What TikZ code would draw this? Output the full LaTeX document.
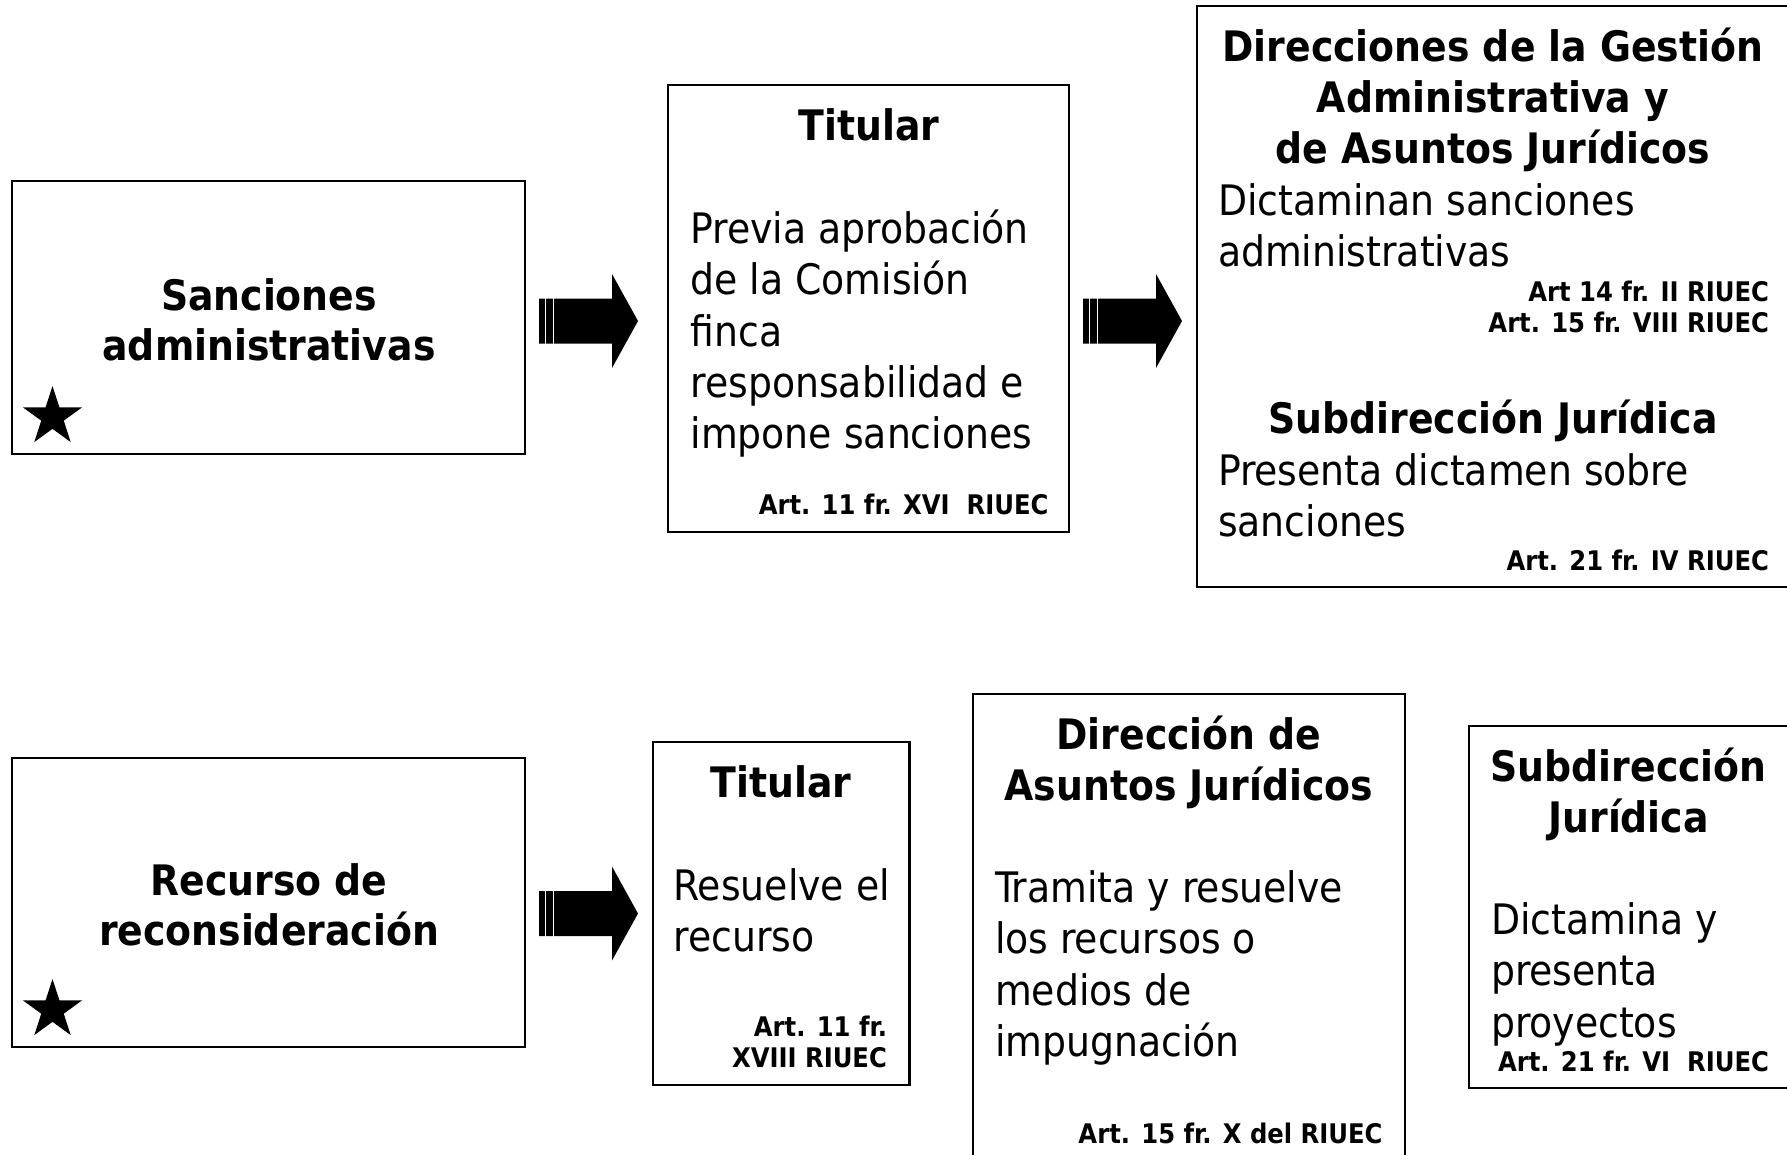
\documentclass[tikz,border=0pt]{standalone}
\usepackage{fontspec}
\setmainfont{DejaVu Sans Condensed}
\usetikzlibrary{shapes.geometric}
\newcommand\fsBody{\fontsize{42}{51.3}\selectfont}
\newcommand\fsHead{\bfseries\fontsize{42}{49.5}\selectfont}
\newcommand\fsHeadB{\bfseries\fontsize{42}{51}\selectfont}
\newcommand\fsTit{\bfseries\fontsize{42}{51}\selectfont}
\newcommand\fsArt{\bfseries\fontsize{27}{31}\selectfont}
\begin{document}
\begin{tikzpicture}[x=1pt,y=-1pt,
  box/.style={draw=black, line width=2.2pt, inner sep=0pt, outer sep=0pt, anchor=north west},
  txt/.style={inner sep=0pt, outer sep=0pt},
  stripedarrow/.pic={
    \fill[black] (0,-22.5) -- (73,-22.5) -- (73,-47) -- (99,0) -- (73,47) -- (73,22.5) -- (0,22.5) -- cycle;
    \draw[white, line width=1.2pt] (6.5,-23) -- (6.5,23) (14.5,-23) -- (14.5,23);
  },
  starmark/.style={star, star points=5, star point ratio=2.618, fill=black, draw=none, minimum size=62pt, inner sep=0pt}]
\useasboundingbox (0,0) rectangle (1787,1154);
\clip (0,0) rectangle (1787,1154);
\fill[white] (0,0) rectangle (1787,1154);

% boxes
\node[box, minimum width=513pt, minimum height=273pt] (b1) at (12,181) {};
\node[box, minimum width=401pt, minimum height=447pt] (b2) at (668,85) {};
\node[box, minimum width=593pt, minimum height=581pt] (b3) at (1197,6) {};
\node[box, minimum width=513pt, minimum height=289pt] (b4) at (12,758) {};
\node[box, minimum width=256.5pt, minimum height=343pt] (b5) at (653,742) {};
\node[box, minimum width=432pt, minimum height=470pt] (b6) at (973,694) {};
\node[box, minimum width=321pt, minimum height=362pt] (b7) at (1469,726) {};

% stars
\node[starmark] (s1) at (52.5,417) {};
\node[starmark] (s2) at (52.5,1010) {};

% arrows
\pic at (539,321) {stripedarrow};
\pic at (1083,321) {stripedarrow};
\pic at (539,913.5) {stripedarrow};

% box 1
\node[txt, anchor=base] (t1) at (269,310.5) {\fsHead\begin{tabular}[t]{@{}c@{}}Sanciones\\administrativas\end{tabular}};

% box 2
\node[txt, anchor=base] (t2h) at (869,140) {\fsTit Titular};
\node[txt, anchor=base west] (t2b) at (690.6,243.5) {\fsBody\begin{tabular}[t]{@{}l@{}}Previa aprobación\\de la Comisión\\finca\\responsabilidad e\\impone sanciones\end{tabular}};
\node[txt, anchor=base east] (t2a) at (1048.5,514) {\fsArt Art. 11 fr. XVI~~RIUEC};

% box 3
\node[txt, anchor=base] (t3h) at (1493,61) {\fsHeadB\begin{tabular}[t]{@{}c@{}}Direcciones de la Gestión\\Administrativa y\\de Asuntos Jurídicos\end{tabular}};
\node[txt, anchor=base west] (t3b) at (1218,215) {\fsBody\begin{tabular}[t]{@{}l@{}}Dictaminan sanciones\\administrativas\end{tabular}};
\node[txt, anchor=base east] (t3a) at (1769,301) {\fsArt\begin{tabular}[t]{@{}r@{}}Art 14 fr. II RIUEC\\Art. 15 fr. VIII RIUEC\end{tabular}};
\node[txt, anchor=base] (t3h2) at (1493,433.5) {\fsHeadB Subdirección Jurídica};
\node[txt, anchor=base west] (t3b2) at (1218,485) {\fsBody\begin{tabular}[t]{@{}l@{}}Presenta dictamen sobre\\sanciones\end{tabular}};
\node[txt, anchor=base east] (t3a2) at (1769,570) {\fsArt Art. 21 fr. IV RIUEC};

% box 4
\node[txt, anchor=base] (t4) at (269,895.5) {\fsHead\begin{tabular}[t]{@{}c@{}}Recurso de\\reconsideración\end{tabular}};

% box 5
\node[txt, anchor=base] (t5h) at (781,797.5) {\fsTit Titular};
\node[txt, anchor=base west] (t5b) at (673.5,900.5) {\fsBody\begin{tabular}[t]{@{}l@{}}Resuelve el\\recurso\end{tabular}};
\node[txt, anchor=base east] (t5a) at (887,1036) {\fsArt\begin{tabular}[t]{@{}r@{}}Art. 11 fr.\\XVIII RIUEC\end{tabular}};

% box 6
\node[txt, anchor=base] (t6h) at (1189,749.5) {\fsHeadB\begin{tabular}[t]{@{}c@{}}Dirección de\\Asuntos Jurídicos\end{tabular}};
\node[txt, anchor=base west] (t6b) at (995,902.5) {\fsBody\begin{tabular}[t]{@{}l@{}}Tramita y resuelve\\los recursos o\\medios de\\impugnación\end{tabular}};
\node[txt, anchor=base east] (t6a) at (1382.5,1143) {\fsArt Art. 15 fr. X del RIUEC};

% box 7
\node[txt, anchor=base] (t7h) at (1628.6,781.5) {\fsHeadB\begin{tabular}[t]{@{}c@{}}Subdirección\\Jurídica\end{tabular}};
\node[txt, anchor=base west] (t7b) at (1491,934.5) {\fsBody\begin{tabular}[t]{@{}l@{}}Dictamina y\\presenta\\proyectos\end{tabular}};
\node[txt, anchor=base east] (t7a) at (1769,1071) {\fsArt Art. 21 fr. VI~~RIUEC};
\end{tikzpicture}
\end{document}
